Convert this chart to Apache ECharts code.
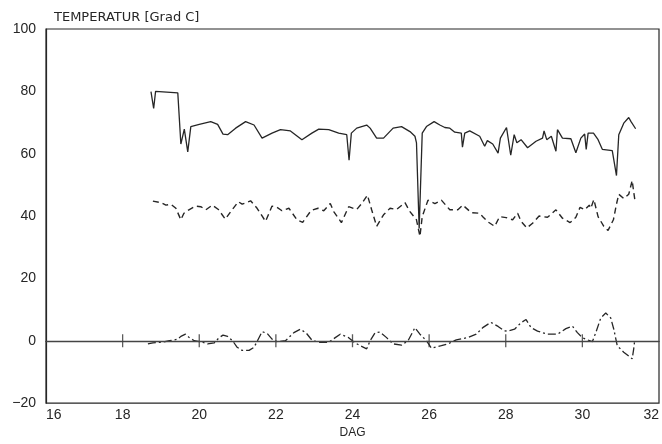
<!DOCTYPE html>
<html>
<head>
<meta charset="utf-8">
<script src="https://cdn.jsdelivr.net/npm/echarts@6/dist/echarts.min.js"></script>
<style>html,body{margin:0;padding:0;background:#fff;}#c{width:662px;height:444px;}</style>
</head>
<body>
<div id="c"></div>
<script>
const titleText = 'TEMPERATUR [Grad C]';
const xAxisName = 'DAG';
const xTicks = [16, 32, 2];
const yTicks = [-20, 100, 20];
const zeroTickDays = [18, 20, 22, 24, 26, 28, 30];

const upperSeries = [[18.74,79.9],[18.81,74.5],[18.86,80.0],[19.44,79.5],[19.52,63.1],[19.61,67.9],[19.70,60.6],[19.78,68.7],[20.0,69.4],[20.30,70.3],[20.48,69.4],[20.62,66.3],[20.74,66.1],[20.95,68.2],[21.21,70.3],[21.43,69.2],[21.64,65.0],[21.90,66.6],[22.12,67.7],[22.38,67.3],[22.68,64.5],[22.94,66.6],[23.12,67.9],[23.38,67.7],[23.64,66.6],[23.85,66.1],[23.91,57.9],[23.97,66.6],[24.11,68.2],[24.37,69.2],[24.46,68.2],[24.63,65.0],[24.81,65.0],[25.06,68.2],[25.28,68.7],[25.50,67.1],[25.63,65.6],[25.67,63.5],[25.74,36],[25.78,36],[25.82,66.6],[25.93,68.7],[26.13,70.3],[26.28,69.2],[26.41,68.4],[26.54,68.2],[26.67,66.9],[26.84,66.6],[26.87,62.1],[26.93,66.6],[27.06,67.3],[27.32,65.6],[27.45,62.4],[27.52,64.2],[27.66,63.1],[27.80,60.2],[27.86,65.0],[28.02,68.4],[28.13,59.5],[28.22,66.1],[28.29,63.5],[28.40,64.5],[28.57,61.9],[28.79,64.0],[28.96,65.0],[29.00,67.3],[29.07,64.5],[29.19,65.6],[29.31,60.8],[29.35,67.7],[29.48,65.0],[29.70,64.8],[29.83,60.3],[29.96,65.0],[30.06,66.3],[30.10,61.4],[30.15,66.6],[30.29,66.6],[30.41,64.5],[30.52,61.4],[30.78,61.0],[30.89,53.0],[30.95,66.1],[31.08,69.8],[31.21,71.6],[31.27,70.3],[31.39,68.0]];

const middleSeries = [[18.79,44.8],[19.0,44.3],[19.13,43.5],[19.26,43.8],[19.39,42.5],[19.52,38.8],[19.60,40.9],[19.73,42.0],[19.91,43.2],[20.04,43.0],[20.17,42.0],[20.34,43.5],[20.50,42.1],[20.68,39.0],[20.82,41.4],[21.02,44.6],[21.12,43.8],[21.34,44.9],[21.51,42.5],[21.73,38.3],[21.90,43.2],[22.03,42.8],[22.16,41.7],[22.34,42.5],[22.55,38.8],[22.70,38.0],[22.92,41.8],[23.10,42.5],[23.25,41.7],[23.42,44.0],[23.51,41.4],[23.71,37.9],[23.90,43.0],[24.11,42.1],[24.24,44.0],[24.39,46.7],[24.50,42.0],[24.63,36.7],[24.81,40.4],[24.98,42.5],[25.15,42.1],[25.37,44.3],[25.50,41.4],[25.67,38.8],[25.76,33.5],[25.82,39.8],[25.97,45.1],[26.15,44.0],[26.32,45.1],[26.54,42.0],[26.75,42.0],[26.88,43.5],[27.10,41.1],[27.32,40.9],[27.40,39.8],[27.55,38.0],[27.71,36.7],[27.84,39.8],[28.01,39.5],[28.18,38.8],[28.31,40.9],[28.40,38.3],[28.55,36.2],[28.70,37.7],[28.87,40.0],[29.09,39.6],[29.31,42.0],[29.48,39.3],[29.68,37.9],[29.83,39.6],[29.94,42.8],[30.06,42.0],[30.18,43.5],[30.22,42.5],[30.30,45.3],[30.41,39.8],[30.56,36.7],[30.67,35.4],[30.81,38.8],[30.89,43.8],[30.95,47.0],[31.08,45.6],[31.21,47.0],[31.30,51.4],[31.34,47.7],[31.38,44.3]];

const lowerSeries = [[18.66,-1.0],[18.79,-0.7],[19.0,-0.5],[19.22,0],[19.44,0.5],[19.52,1.4],[19.64,2.1],[19.74,1.0],[19.87,0],[20.04,-0.3],[20.22,-1.0],[20.39,-0.7],[20.52,1.0],[20.62,1.8],[20.74,1.4],[20.87,0],[20.99,-2.1],[21.12,-3.1],[21.30,-3.1],[21.43,-2.1],[21.54,0.5],[21.64,2.9],[21.77,2.4],[21.90,0.5],[22.03,-0.3],[22.25,0],[22.47,2.6],[22.64,3.7],[22.79,2.5],[22.94,0.2],[23.12,-0.5],[23.38,-0.5],[23.55,1.0],[23.68,2.1],[23.90,1.0],[24.07,-0.7],[24.20,-1.6],[24.37,-2.6],[24.46,0],[24.59,2.6],[24.72,2.8],[24.89,1.0],[25.06,-1.0],[25.28,-1.4],[25.45,0],[25.63,4.2],[25.76,2.1],[25.93,0],[26.06,-2.4],[26.32,-1.6],[26.49,-1.0],[26.71,0.3],[27.01,1.0],[27.23,2.1],[27.40,4.2],[27.61,5.9],[27.80,4.6],[27.96,3.2],[28.05,3.1],[28.23,3.7],[28.40,5.8],[28.53,6.8],[28.66,4.2],[28.83,3.1],[29.09,2.1],[29.35,2.1],[29.57,3.9],[29.74,4.7],[29.87,2.6],[30.0,1.0],[30.13,0.3],[30.26,-0.3],[30.35,2.6],[30.48,7.3],[30.61,8.9],[30.74,7.3],[30.82,3.7],[30.91,-1.6],[31.08,-3.7],[31.30,-5.8],[31.34,-2.6],[31.36,-0.5]];

const ink = '#262626';
const font = 'Liberation Sans, Arial, sans-serif';
const fmtNum = v => (v < 0 ? '\u2212' + (-v) : String(v));
const chart = echarts.init(document.getElementById('c'), null, {renderer: 'canvas'});
chart.setOption({
  animation: false,
  backgroundColor: '#fff',
  title: {
    text: titleText, left: 49, top: 6,
    textStyle: {fontFamily: 'DejaVu Sans, sans-serif', fontSize: 13, fontWeight: 'normal', color: ink}
  },
  grid: {left: 46, right: 1, top: 29, bottom: 34, show: true, borderColor: ink, borderWidth: 1.2, backgroundColor: 'transparent'},
  xAxis: {
    type: 'value', min: xTicks[0], max: xTicks[1], interval: xTicks[2],
    name: xAxisName, nameLocation: 'middle', nameGap: 21,
    nameTextStyle: {fontFamily: font, fontSize: 12, color: ink},
    axisLine: {show: true, lineStyle: {color: ink, width: 1.2}},
    axisTick: {show: false}, splitLine: {show: false},
    axisLabel: {fontFamily: font, fontSize: 14, color: ink, margin: 5, alignMinLabel: 'left', alignMaxLabel: 'right', formatter: fmtNum}
  },
  yAxis: {
    type: 'value', min: yTicks[0], max: yTicks[1], interval: yTicks[2],
    axisLine: {show: true, lineStyle: {color: ink, width: 1.2}},
    axisTick: {show: false}, splitLine: {show: false},
    axisLabel: {fontFamily: font, fontSize: 14, color: ink, margin: 10, formatter: fmtNum}
  },
  series: [
    {
      type: 'scatter', data: zeroTickDays.map(d => [d, 0]),
      symbol: 'rect', symbolSize: [1.3, 13], itemStyle: {color: '#333'}, silent: true, z: 3,
      markLine: {
        silent: true, symbol: 'none', label: {show: false},
        lineStyle: {type: 'solid', color: '#444', width: 1.3},
        data: [{yAxis: 0}]
      }
    },
    {type: 'line', data: upperSeries, showSymbol: false, lineStyle: {color: ink, width: 1.3, type: 'solid'}, z: 4},
    {type: 'line', data: middleSeries, showSymbol: false, lineStyle: {color: ink, width: 1.4, type: [6, 4]}, z: 4},
    {type: 'line', data: lowerSeries, showSymbol: false, lineStyle: {color: ink, width: 1.3, type: [8, 3, 2, 3]}, z: 4}
  ]
});
</script>
</body>
</html>
